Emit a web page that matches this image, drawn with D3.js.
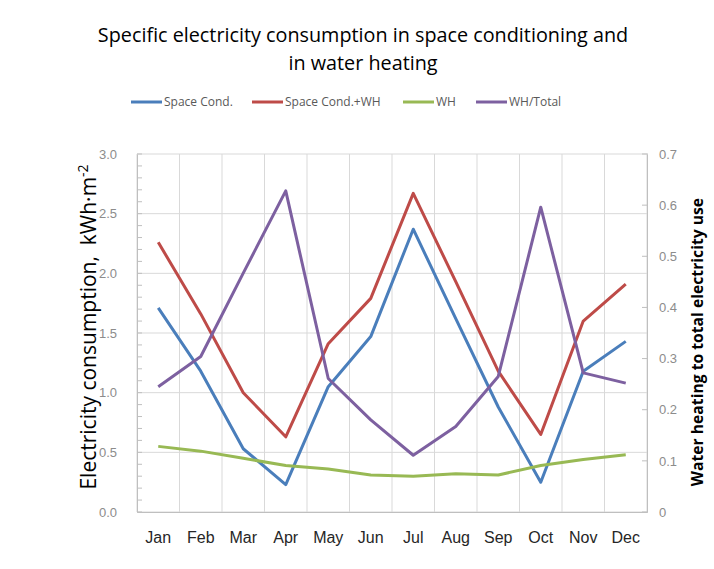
<!DOCTYPE html>
<html>
<head>
<meta charset="utf-8">
<script src="https://cdn.jsdelivr.net/npm/d3@7"></script>
<style>
body { margin: 0; background: #fff; }
svg { font-family: "Open Sans", sans-serif; }
</style>
</head>
<body>
<div id="chart"></div>
<script>
var months = ["Jan","Feb","Mar","Apr","May","Jun","Jul","Aug","Sep","Oct","Nov","Dec"];
var spaceCond = [1.71, 1.18, 0.53, 0.23, 1.05, 1.47, 2.37, 1.62, 0.88, 0.25, 1.18, 1.43];
var spaceCondWH = [2.26, 1.66, 1.0, 0.63, 1.41, 1.79, 2.67, 1.93, 1.18, 0.65, 1.6, 1.91];
var wh = [0.55, 0.51, 0.45, 0.39, 0.36, 0.31, 0.3, 0.32, 0.31, 0.39, 0.44, 0.48];
var whTotal = [0.245, 0.304, 0.467, 0.628, 0.261, 0.18, 0.111, 0.167, 0.265, 0.596, 0.272, 0.252];
var leftTicks = [0, 0.5, 1, 1.5, 2, 2.5, 3];
var rightTicks = [0, 0.1, 0.2, 0.3, 0.4, 0.5, 0.6, 0.7];

var width = 714, height = 569;
var margin = {top: 154, right: 67, bottom: 57, left: 137};
var w = width - margin.left - margin.right;
var h = height - margin.top - margin.bottom;

var svg = d3.select("#chart").append("svg")
	.attr("width", width)
	.attr("height", height);

var g = svg.append("g")
	.attr("transform", "translate(" + margin.left + "," + margin.top + ")");

var x = d3.scaleBand()
	.domain(months)
	.range([0, w]);
var y = d3.scaleLinear()
	.domain([0, 3])
	.range([h, 0]);
var y2 = d3.scaleLinear()
	.domain([0, 0.7])
	.range([h, 0]);

// gridlines
g.selectAll(".hgrid")
	.data(leftTicks)
	.enter().append("line")
	.attr("x1", 0).attr("x2", w)
	.attr("y1", (d) => y(d)).attr("y2", (d) => y(d))
	.attr("stroke", "#d9d9d9");
g.selectAll(".vgrid")
	.data(months)
	.enter().append("line")
	.attr("x1", (d) => x(d)).attr("x2", (d) => x(d))
	.attr("y1", 0).attr("y2", h)
	.attr("stroke", "#d9d9d9");
g.append("line")
	.attr("x1", w).attr("x2", w).attr("y1", 0).attr("y2", h)
	.attr("stroke", "#d9d9d9");

// left axis
var leftAxis = d3.axisLeft(y).tickValues(leftTicks).tickSize(0).tickPadding(20)
	.tickFormat(d3.format(".1f"));
g.append("g").attr("class", "left axis").call(leftAxis)
	.call((s) => s.select(".domain").attr("stroke", "#bfbfbf"))
	.selectAll("text")
	.attr("fill", "#8c8c8c")
	.attr("font-size", "13px");
// minor ticks inside
g.selectAll(".minor")
	.data(d3.range(0, 31).map((d) => d / 10))
	.enter().append("line")
	.attr("x1", 0).attr("x2", 5)
	.attr("y1", (d) => y(d)).attr("y2", (d) => y(d))
	.attr("stroke", "#bfbfbf");

// right axis
var rightAxis = d3.axisRight(y2).tickValues(rightTicks).tickSize(0).tickPadding(12)
	.tickFormat((d) => d === 0 ? "0" : d3.format(".1f")(d));
g.append("g").attr("class", "right axis")
	.attr("transform", "translate(" + w + ",0)")
	.call(rightAxis)
	.call((s) => s.select(".domain").attr("stroke", "#bfbfbf"))
	.selectAll("text")
	.attr("fill", "#8c8c8c")
	.attr("font-size", "13px");
g.selectAll(".rtick")
	.data(rightTicks)
	.enter().append("line")
	.attr("x1", w - 5).attr("x2", w + 1)
	.attr("y1", (d) => y2(d)).attr("y2", (d) => y2(d))
	.attr("stroke", "#bfbfbf");

// bottom axis
var bottomAxis = d3.axisBottom(x).tickSize(0).tickPadding(20);
g.append("g").attr("class", "bottom axis")
	.attr("transform", "translate(0," + h + ")")
	.call(bottomAxis)
	.call((s) => s.select(".domain").attr("stroke", "#bfbfbf"))
	.selectAll("text")
	.attr("fill", "#262626")
	.attr("font-size", "16px");

// lines
var series = [
	{name: "Space Cond.", values: spaceCond, color: "#4a7ebb", scale: y},
	{name: "Space Cond.+WH", values: spaceCondWH, color: "#be4b48", scale: y},
	{name: "WH", values: wh, color: "#98b954", scale: y},
	{name: "WH/Total", values: whTotal, color: "#7d60a0", scale: y2}
];

series.forEach((s) => {
	var line = d3.line()
		.x((d, i) => x(months[i]) + x.bandwidth() / 2)
		.y((d) => s.scale(d));
	g.append("path")
		.datum(s.values)
		.attr("d", line)
		.attr("fill", "none")
		.attr("stroke", s.color)
		.attr("stroke-width", 3)
		.attr("stroke-linejoin", "round");
});

// title
svg.append("text")
	.attr("x", 363).attr("y", 42)
	.attr("text-anchor", "middle")
	.attr("font-size", "19.8px")
	.attr("fill", "#000")
	.text("Specific electricity consumption in space conditioning and");
svg.append("text")
	.attr("x", 363).attr("y", 70)
	.attr("text-anchor", "middle")
	.attr("font-size", "19.8px")
	.attr("fill", "#000")
	.text("in water heating");

// legend
var legendX = [131, 252, 403, 476];
var legend = svg.selectAll(".legend")
	.data(series)
	.enter().append("g")
	.attr("transform", (d, i) => "translate(" + legendX[i] + ",102)");
legend.append("line")
	.attr("x1", 0).attr("x2", 31)
	.attr("stroke", (d) => d.color)
	.attr("stroke-width", 3);
legend.append("text")
	.attr("x", 33).attr("y", 4)
	.attr("font-size", "12px")
	.attr("fill", "#595959")
	.text((d) => d.name);

// axis titles
svg.append("text")
	.attr("transform", "translate(96,327) rotate(-90)")
	.attr("text-anchor", "middle")
	.attr("font-size", "21px")
	.attr("fill", "#000")
	.html("Electricity consumption,&#160; kWh·m<tspan dy='-8' font-size='14px'>-2</tspan>");
svg.append("text")
	.attr("transform", "translate(703,342) rotate(-90)")
	.attr("text-anchor", "middle")
	.attr("font-size", "15.7px")
	.attr("font-weight", "bold")
	.attr("fill", "#000")
	.text("Water heating to total electricity use");
</script>
</body>
</html>
